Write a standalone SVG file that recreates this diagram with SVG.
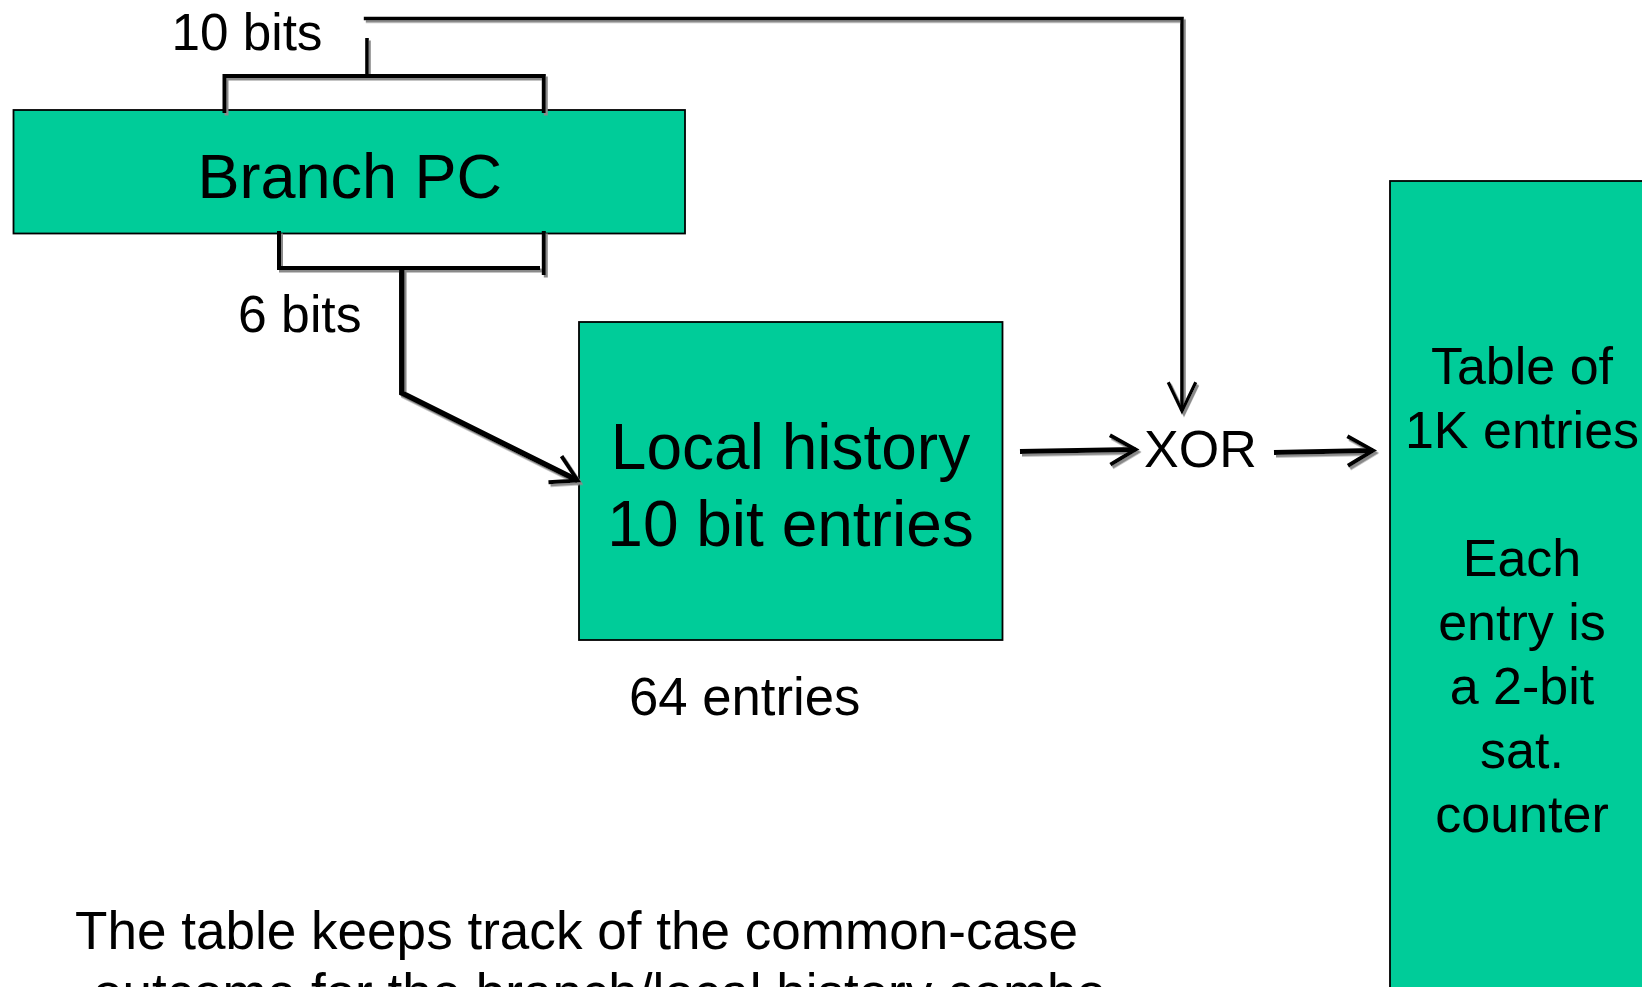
<svg xmlns="http://www.w3.org/2000/svg" width="1642" height="987" viewBox="0 0 1642 987">
<style>
  text { font-family: "Liberation Sans", Arial, sans-serif; fill: #000; }
  .box { fill: #00CC99; stroke: #000; stroke-width: 1.8; }
  .wire { fill: none; stroke: #000; stroke-linejoin: miter; }
  .t52 { font-size: 52px; }
  .t53 { font-size: 53px; }
  .mid { text-anchor: middle; }
</style>
<defs>
  <filter id="shadow" x="-5%" y="-5%" width="110%" height="110%">
    <feDropShadow dx="2" dy="2.5" stdDeviation="0.3" flood-color="#8a8a8a" flood-opacity="1"/>
  </filter>
  <marker id="arrow" markerUnits="userSpaceOnUse" orient="auto" refX="0" refY="0" markerWidth="40" markerHeight="40" viewBox="-25 -15 30 30" overflow="visible">
    <path d="M-19,-11 L0,0 L-19,11" fill="none" stroke="#000" stroke-width="3"/>
  </marker>
  <marker id="arrowLong" markerUnits="userSpaceOnUse" orient="auto" refX="0" refY="0" markerWidth="40" markerHeight="40" viewBox="-28 -15 32 30" overflow="visible">
    <path d="M-23,-11 L0,0 L-23,11" fill="none" stroke="#000" stroke-width="2.6"/>
  </marker>
</defs>
<rect width="1642" height="987" fill="#fff"/>

<g id="node-branch-pc">
  <rect class="box" x="13.5" y="110" width="671.5" height="123.5"/>
  <text x="349.8" y="197.7" class="mid" font-size="63">Branch PC</text>
</g>

<g id="node-local-history">
  <rect class="box" x="579" y="322" width="423.5" height="318"/>
  <text x="790.5" y="469" class="mid" font-size="64">Local history</text>
  <text x="790.5" y="545.7" class="mid" font-size="64">10 bit entries</text>
</g>

<g id="node-table">
  <rect class="box" x="1390" y="181" width="280" height="830"/>
  <text class="t52 mid" x="1522" y="384">Table of</text>
  <text class="t52 mid" x="1522" y="448">1K entries</text>
  <text class="t52 mid" x="1522" y="576">Each</text>
  <text class="t52 mid" x="1522" y="640">entry is</text>
  <text class="t52 mid" x="1522" y="704">a 2-bit</text>
  <text class="t52 mid" x="1522" y="768">sat.</text>
  <text class="t52 mid" x="1522" y="832">counter</text>
</g>

<g id="node-xor">
  <text class="t52" x="1144" y="466.7" textLength="112.7" lengthAdjust="spacingAndGlyphs">XOR</text>
</g>

<g id="labels">
  <text class="t52" x="171.5" y="50" textLength="151" lengthAdjust="spacingAndGlyphs">10 bits</text>
  <text class="t52" x="238" y="331.7" textLength="123.6" lengthAdjust="spacingAndGlyphs">6 bits</text>
  <text class="t53" x="629" y="715" textLength="231.3" lengthAdjust="spacingAndGlyphs">64 entries</text>
  <text class="t53" x="75" y="949.3" textLength="1003" lengthAdjust="spacingAndGlyphs">The table keeps track of the common-case</text>
  <text class="t53" x="93" y="1011" textLength="1013" lengthAdjust="spacingAndGlyphs">outcome for the branch/local history combo</text>
</g>

<g id="connectors" filter="url(#shadow)">
  <path class="wire" stroke-width="4" d="M224.5,113 V76 H543.8 V113"/>
  <path class="wire" stroke-width="3.6" d="M367,38 V76"/>
  <path class="wire" stroke-width="4" d="M279,231 V268 H540"/>
  <path class="wire" stroke-width="4" d="M543.8,231 V275"/>
  <path class="wire" stroke-width="5.5" d="M401.8,266 V393 L577.7,480.5" marker-end="url(#arrow)"/>
  <path class="wire" stroke-width="3.6" d="M363.8,18.5 H1182 V411" marker-end="url(#arrowLong)"/>
  <path class="wire" stroke-width="5" d="M1020,451.5 L1135.5,449.5" marker-end="url(#arrow)"/>
  <path class="wire" stroke-width="5" d="M1274,452.5 L1373,450.5" marker-end="url(#arrow)"/>
</g>
</svg>
